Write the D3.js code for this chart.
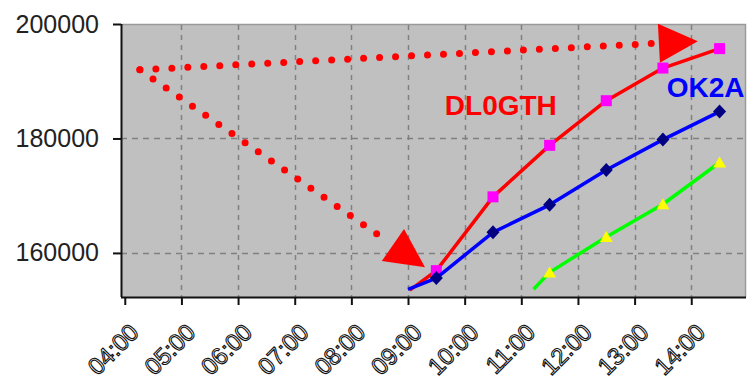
<!DOCTYPE html>
<html>
<head>
<meta charset="utf-8">
<script src="https://cdn.jsdelivr.net/npm/d3@7"></script>
<style>
  html, body { margin: 0; padding: 0; background: #fff; }
  svg { display: block; }
</style>
</head>
<body>
<div id="chart"></div>
<script>
// x range of the plot and hour ticks
const xStart = '03:56'
const xEnd = '14:58'
const hourTicks = ['04:00', '05:00', '06:00', '07:00', '08:00', '09:00', '10:00', '11:00', '12:00', '13:00', '14:00']

// y range and labelled ticks
const yMin = 152300
const yMax = 200000
const yTicks = [160000, 180000, 200000]

// series: the first point of each is the (unmarked) start of the line
const dl0gthTimes = ['09:02', '09:30', '10:30', '11:30', '12:30', '13:30', '14:30']
const dl0gthValues = [153500, 156900, 169800, 178800, 186600, 192300, 195700]

const ok2aTimes = ['09:00', '09:30', '10:30', '11:30', '12:30', '13:30', '14:30']
const ok2aValues = [153650, 155600, 163600, 168400, 174500, 179800, 184700]

const thirdTimes = ['11:13', '11:30', '12:30', '13:30', '14:30']
const thirdValues = [153650, 156600, 162800, 168500, 175800]

// dotted arrows drawn over the chart: common start, two tips
const arrowFrom = { time: '04:16', value: 192000 }
const arrowTips = [
  { time: '14:07', value: 197000 },
  { time: '09:18', value: 157500 }
]

// series name labels
const seriesLabels = [
  { text: 'DL0GTH', time: '09:39', value: 184100, color: '#ff0000' },
  { text: 'OK2A', time: '13:34', value: 187300, color: '#0000ff' }
]

const width = 747
const height = 385
const margin = { top: 24, right: 1, bottom: 88, left: 121 }

const parseTime = d3.timeParse('%H:%M')

const x = d3.scaleTime()
  .domain([parseTime(xStart), parseTime(xEnd)])
  .range([margin.left, width - margin.right])

const y = d3.scaleLinear()
  .domain([yMin, yMax])
  .range([height - margin.bottom, margin.top])

const svg = d3.select('#chart').append('svg')
  .attr('width', width)
  .attr('height', height)
  .style('font-family', '"Liberation Sans", Arial, sans-serif')

let x0 = x.range()[0]
let x1 = x.range()[1]
let y0 = y.range()[0]
let y1 = y.range()[1]

// plot background
svg.append('rect')
  .attr('x', x0)
  .attr('y', y1)
  .attr('width', x1 - x0)
  .attr('height', y0 - y1)
  .attr('fill', '#c0c0c0')

// light frame at top and right
svg.append('path')
  .attr('d', `M${x0},${y1 + 0.5}H${x1 - 0.5}V${y0}`)
  .attr('fill', 'none')
  .attr('stroke', '#9a9a9a')
  .attr('stroke-width', 1.5)

// grid
let hours = hourTicks.map(parseTime)

svg.append('g')
  .selectAll('line')
  .data(hours.slice(1))
  .join('line')
  .attr('x1', d => Math.round(x(d)) + 0.5)
  .attr('x2', d => Math.round(x(d)) + 0.5)
  .attr('y1', y1 + 1)
  .attr('y2', y0)
  .attr('stroke', '#808080')
  .attr('stroke-width', 1.5)
  .attr('stroke-dasharray', '5,5')

svg.append('g')
  .selectAll('line')
  .data(yTicks.filter(v => v < yMax))
  .join('line')
  .attr('x1', x0)
  .attr('x2', x1)
  .attr('y1', d => Math.round(y(d)) + 0.5)
  .attr('y2', d => Math.round(y(d)) + 0.5)
  .attr('stroke', '#808080')
  .attr('stroke-width', 1.5)
  .attr('stroke-dasharray', '6,5')

// y axis
let yAxis = svg.append('g')
  .attr('transform', `translate(${x0},0)`)
  .call(d3.axisLeft(y).tickValues(yTicks).tickSize(8).tickPadding(14).tickFormat(d3.format('d')))

yAxis.select('.domain')
  .attr('d', `M0.5,${y1}V${y0}`)
  .attr('stroke', '#111')
  .attr('stroke-width', 2)
yAxis.selectAll('.tick line').attr('stroke', '#111').attr('stroke-width', 2)
yAxis.selectAll('.tick text')
  .attr('font-size', 25)
  .attr('font-family', '"Liberation Sans", Arial, sans-serif')
  .attr('fill', '#222')

// x axis
let xAxis = svg.append('g')
  .attr('transform', `translate(0,${y0})`)
  .call(d3.axisBottom(x).tickValues(hours).tickSize(8).tickFormat(d3.timeFormat('%H:%M')))

xAxis.select('.domain')
  .attr('d', `M${x0},0.5H${x1}`)
  .attr('stroke', '#111')
  .attr('stroke-width', 2)
xAxis.selectAll('.tick line').attr('stroke', '#111').attr('stroke-width', 2)
xAxis.selectAll('.tick text')
  .attr('font-size', 24)
  .attr('font-family', '"Liberation Sans", Arial, sans-serif')
  .attr('fill', '#fff')
  .attr('stroke', '#111')
  .attr('stroke-width', 1.1)
  .attr('text-anchor', 'end')
  .attr('dy', null)
  .attr('y', 0)
  .attr('transform', 'translate(15,37) rotate(-45)')

// series
let series = [
  { times: dl0gthTimes, values: dl0gthValues, line: '#ff0000', marker: '#ff00ff', shape: 'square' },
  { times: ok2aTimes, values: ok2aValues, line: '#0000ff', marker: '#000080', shape: 'diamond' },
  { times: thirdTimes, values: thirdValues, line: '#00ff00', marker: '#ffff00', shape: 'triangle' }
]

let line = d3.line()
  .x(d => x(d.t))
  .y(d => y(d.v))

let shapes = {
  square: d3.symbol(d3.symbolSquare, 121)(),
  diamond: 'M0,-7L6.5,0L0,7L-6.5,0Z',
  triangle: 'M0,-6L6.5,5L-6.5,5Z'
}

series.forEach(s => {
  let pts = s.times.map((t, i) => ({ t: parseTime(t), v: s.values[i] }))

  svg.append('path')
    .datum(pts)
    .attr('d', line)
    .attr('fill', 'none')
    .attr('stroke', s.line)
    .attr('stroke-width', 3.5)
    .attr('stroke-linejoin', 'round')

  svg.append('g')
    .selectAll('path')
    .data(pts.slice(1))
    .join('path')
    .attr('transform', d => `translate(${x(d.t)},${y(d.v)})`)
    .attr('d', shapes[s.shape])
    .attr('fill', s.marker)
})

// dotted arrows
let ax = x(parseTime(arrowFrom.time))
let ay = y(arrowFrom.value)
let headLen = 39
let headHalf = 19.5

arrowTips.forEach(tip => {
  let tx = x(parseTime(tip.time))
  let ty = y(tip.value)
  let len = Math.hypot(tx - ax, ty - ay)
  let ux = (tx - ax) / len
  let uy = (ty - ay) / len
  let bx = tx - ux * headLen
  let by = ty - uy * headLen

  svg.append('line')
    .attr('x1', ax)
    .attr('y1', ay)
    .attr('x2', bx - ux * 6)
    .attr('y2', by - uy * 6)
    .attr('stroke', '#ff0000')
    .attr('stroke-width', 7)
    .attr('stroke-linecap', 'round')
    .attr('stroke-dasharray', '0,16')

  svg.append('path')
    .attr('d', `M${tx},${ty}L${bx - uy * headHalf},${by + ux * headHalf}L${bx + uy * headHalf},${by - ux * headHalf}Z`)
    .attr('fill', '#ff0000')
})

// series labels
svg.append('g')
  .selectAll('text')
  .data(seriesLabels)
  .join('text')
  .attr('x', d => x(parseTime(d.time)))
  .attr('y', d => y(d.value))
  .attr('fill', d => d.color)
  .attr('font-size', 28)
  .attr('font-weight', 'bold')
  .text(d => d.text)
</script>
</body>
</html>
